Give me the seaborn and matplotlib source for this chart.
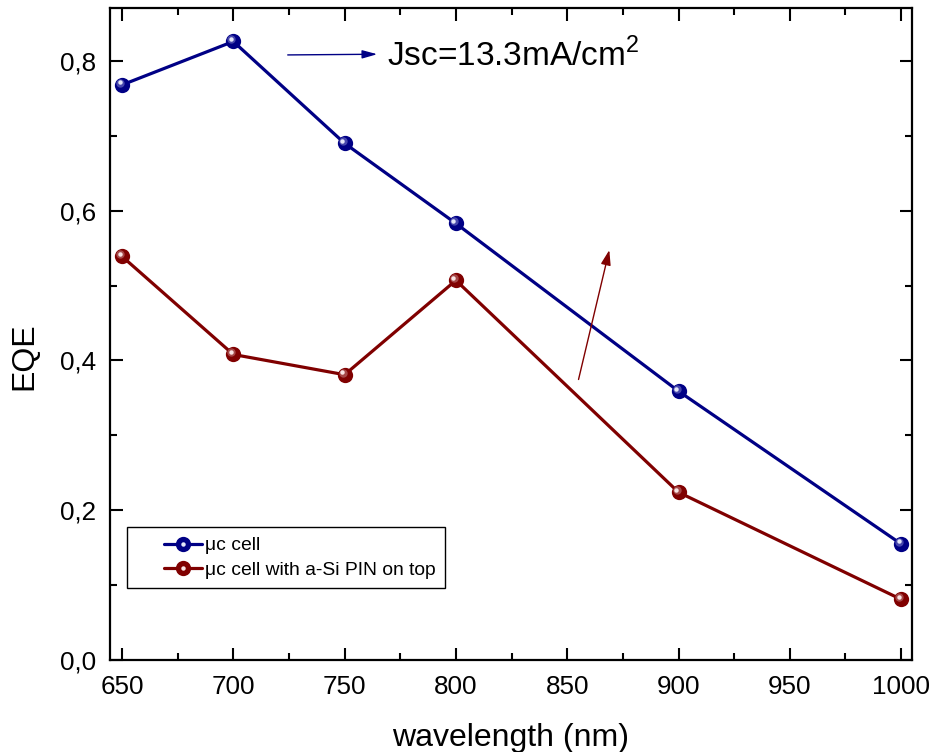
import numpy as np
import pandas as pd
import matplotlib
matplotlib.use("Agg")
import matplotlib.pyplot as plt
import matplotlib.transforms as mtransforms
from matplotlib.lines import Line2D
from matplotlib.legend_handler import HandlerTuple
from matplotlib.ticker import MultipleLocator, FuncFormatter
import seaborn as sns

# ---- data ----
wavelength = [650, 700, 750, 800, 900, 1000]
eqe_uc = [0.768, 0.826, 0.690, 0.583, 0.359, 0.155]
eqe_uc_pin = [0.539, 0.408, 0.381, 0.507, 0.224, 0.081]
series_names = ["\u03bcc cell", "\u03bcc cell with a-Si PIN on top"]
annot_text = "Jsc=13.3mA/cm$^{2}$"

sns.set_style("ticks")
plt.rcParams["font.family"] = ["Liberation Sans", "DejaVu Sans"]
plt.rcParams["mathtext.fontset"] = "custom"
plt.rcParams["mathtext.rm"] = "Liberation Sans"
plt.rcParams["text.color"] = "black"
plt.rcParams["axes.labelcolor"] = "black"
plt.rcParams["xtick.color"] = "black"
plt.rcParams["ytick.color"] = "black"

df = pd.DataFrame({
    "wavelength": wavelength * 2,
    "EQE": eqe_uc + eqe_uc_pin,
    "series": [series_names[0]] * len(wavelength) + [series_names[1]] * len(wavelength),
})
colors = {series_names[0]: "#000085", series_names[1]: "#800000"}
mid = {series_names[0]: "#5a5ab8", series_names[1]: "#b05a5a"}
hilite = {series_names[0]: "#e4e6f8", series_names[1]: "#f8e4e4"}

fig = plt.figure(figsize=(9.32, 7.52), dpi=100)
ax = fig.add_axes([110 / 932, 1 - 660 / 752, (912 - 110) / 932, (660 - 8) / 752])

sns.lineplot(data=df, x="wavelength", y="EQE", hue="series", palette=colors,
             marker="o", markersize=11, markeredgewidth=0, linewidth=2.3,
             ax=ax, legend=False, zorder=3)

# highlight on spheres
off1 = mtransforms.ScaledTranslation(-2.0 / 100, 2.0 / 100, fig.dpi_scale_trans)
off2 = mtransforms.ScaledTranslation(-2.5 / 100, 2.5 / 100, fig.dpi_scale_trans)
for name in series_names:
    sub = df[df["series"] == name]
    ax.plot(sub["wavelength"], sub["EQE"], linestyle="none", marker="o",
            markersize=6, markeredgewidth=0, color=mid[name], alpha=0.8,
            transform=ax.transData + off1, zorder=4)
    ax.plot(sub["wavelength"], sub["EQE"], linestyle="none", marker="o",
            markersize=3.2, markeredgewidth=0, color=hilite[name],
            transform=ax.transData + off2, zorder=5)

ax.set_xlim(644.6, 1004.9)
ax.set_ylim(0, 0.8707)
ax.xaxis.set_major_locator(MultipleLocator(50))
ax.xaxis.set_minor_locator(MultipleLocator(25))
ax.yaxis.set_major_locator(MultipleLocator(0.2))
ax.yaxis.set_minor_locator(MultipleLocator(0.1))
ax.yaxis.set_major_formatter(FuncFormatter(lambda v, p: f"{v:.1f}".replace(".", ",")))

ax.tick_params(axis="both", which="both", direction="in", top=True, right=True,
               labelsize=18.7, width=1.5, color="black", labelcolor="black")
ax.tick_params(axis="x", which="major", pad=11)
ax.tick_params(axis="y", which="major", pad=10)
ax.tick_params(which="major", length=9)
ax.tick_params(which="minor", length=5)
for s in ax.spines.values():
    s.set_linewidth(1.6)
    s.set_color("black")

ax.set_xlabel("wavelength (nm)", fontsize=23, labelpad=17)
ax.set_ylabel("EQE", fontsize=23)
ax.yaxis.set_label_coords(-0.088, 0.466)

# annotations
ax.annotate("", xy=(765.9, 0.809), xytext=(723.2, 0.808),
            arrowprops=dict(arrowstyle="-|>,head_length=0.9,head_width=0.25",
                            color="#000085", lw=1.0))
ax.text(769, 0.807, annot_text, fontsize=24, va="center", ha="left", color="black")
ax.annotate("", xy=(869.2, 0.551), xytext=(854.8, 0.371),
            arrowprops=dict(arrowstyle="-|>,head_length=0.9,head_width=0.3",
                            color="#800000", lw=1.0))


class ShiftedTuple(HandlerTuple):
    def create_artists(self, legend, orig_handle, xdescent, ydescent, width,
                       height, fontsize, trans):
        shift = 20
        return super().create_artists(legend, orig_handle, xdescent - shift,
                                      ydescent, width - shift, height, fontsize, trans)


# legend
handles = []
for name in series_names:
    h1 = Line2D([], [], color=colors[name], lw=2.3, marker="o", markersize=11,
                markeredgewidth=0)
    h2 = Line2D([], [], linestyle="none", marker="o", markersize=3.2,
                markeredgewidth=0, color=hilite[name])
    handles.append((h1, h2))
leg = ax.legend(handles, series_names, handler_map={tuple: ShiftedTuple(ndivide=1, pad=0)},
                loc="lower left", bbox_to_anchor=(0.021, 0.11), fontsize=13.9,
                frameon=True, fancybox=False, edgecolor="black", framealpha=1,
                handlelength=3.4, borderpad=0.5, labelspacing=0.35, handletextpad=0.15,
                borderaxespad=0)
leg.get_frame().set_linewidth(1.0)
for t in leg.get_texts():
    t.set_color("black")

fig.savefig("out.png", dpi=100)
